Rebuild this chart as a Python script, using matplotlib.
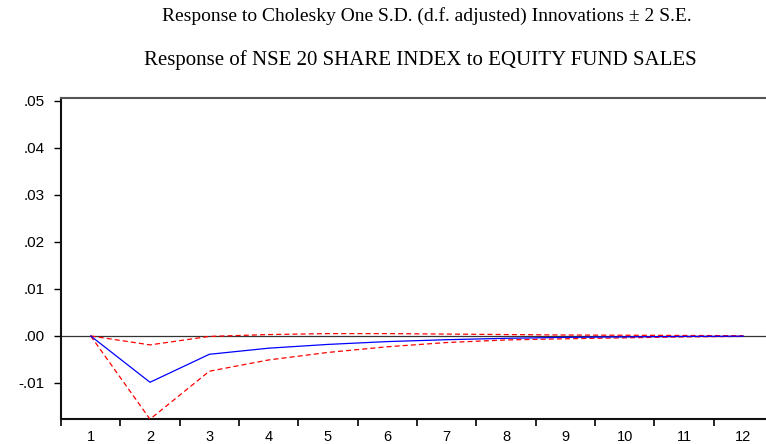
import matplotlib
matplotlib.use("Agg")
import matplotlib.pyplot as plt
from matplotlib.ticker import FixedLocator

periods = [1, 2, 3, 4, 5, 6, 7, 8, 9, 10, 11, 12]
response = [0.0, -0.00985, -0.0039, -0.0026, -0.0018, -0.0012, -0.0008, -0.0005, -0.0003, -0.0002, -0.0001, -0.00005]
upper = [0.0, -0.0019, -0.0001, 0.0003, 0.0005, 0.0005, 0.0004, 0.0003, 0.0002, 0.00015, 0.0001, 0.00005]
lower = [0.0, -0.0177, -0.0075, -0.0051, -0.0035, -0.0023, -0.0014, -0.00085, -0.0006, -0.0004, -0.0002, -0.0001]
ytick_vals = [-0.01, 0.0, 0.01, 0.02, 0.03, 0.04, 0.05]
ytick_labels = ["-.01", ".00", ".01", ".02", ".03", ".04", ".05"]
title1 = "Response to Cholesky One S.D. (d.f. adjusted) Innovations \u00b1 2 S.E."
title2 = "Response of NSE 20 SHARE INDEX to EQUITY FUND SALES"

fig = plt.figure(figsize=(7.66, 4.44), dpi=100)
ax = fig.add_axes([61/766, 1 - 419/444, 712/766, 321/444])

ax.axhline(0, color="#333333", lw=0.9, zorder=1)
ax.plot(periods, upper, color="#ff0000", lw=0.9, ls=(0, (4, 2.5)), zorder=3)
ax.plot(periods, lower, color="#ff0000", lw=0.9, ls=(0, (4, 2.5)), zorder=3)
ax.plot(periods, response, color="#0000ff", lw=0.9, zorder=4)

ax.set_xlim(0.5, 12.5)
ax.set_ylim(-0.01766, 0.0506)

ax.set_xticks(periods)
ax.set_xticklabels([str(p) for p in periods])
ax.xaxis.set_minor_locator(FixedLocator([p - 0.5 for p in periods] + [12.5]))
ax.tick_params(axis="x", which="major", length=0, pad=8, labelsize=10.5)
ax.tick_params(axis="x", which="minor", length=5, width=1.2, direction="out")
ax.set_yticks(ytick_vals)
ax.set_yticklabels(ytick_labels)
ax.tick_params(axis="y", length=5, width=1, direction="out", pad=7, labelsize=11)
for lab in ax.get_xticklabels() + ax.get_yticklabels():
    lab.set_family("Liberation Sans")

for s in ["left", "bottom"]:
    ax.spines[s].set_color("#111111")
    ax.spines[s].set_linewidth(1.5)
ax.spines["top"].set_color("#555555")
ax.spines["top"].set_linewidth(1.5)
ax.spines["right"].set_visible(False)

fig.text(427/766, 1 - 16/444, title1, ha="center", va="center", family="Liberation Serif", fontsize=14)
fig.text(420/766, 1 - 60/444, title2, ha="center", va="center", family="Liberation Serif", fontsize=15)

fig.savefig("out.png", dpi=100)
